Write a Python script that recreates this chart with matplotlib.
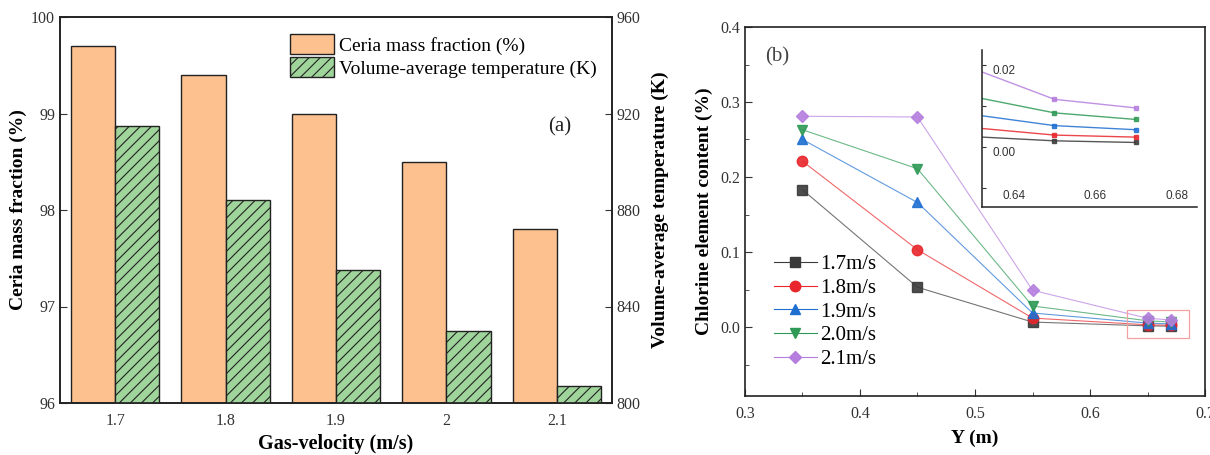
import matplotlib
matplotlib.use("Agg")
import matplotlib.pyplot as plt
import numpy as np
from matplotlib.patches import Rectangle

plt.rcParams['font.family'] = ['Liberation Serif', 'DejaVu Serif']
plt.rcParams['hatch.linewidth'] = 0.8

# ---------- data (a) ----------
velocities = ["1.7", "1.8", "1.9", "2", "2.1"]
ceria_fraction = [99.7, 99.4, 99.0, 98.5, 97.8]
avg_temperature = [915, 884, 855, 830, 807]

# ---------- data (b) ----------
y_positions = [0.35, 0.45, 0.55, 0.65, 0.67]
series_labels = ["1.7m/s", "1.8m/s", "1.9m/s", "2.0m/s", "2.1m/s"]
cl_17 = [0.183, 0.053, 0.0066, 0.0015, 0.0011]
cl_18 = [0.221, 0.103, 0.0119, 0.0029, 0.0024]
cl_19 = [0.250, 0.166, 0.0187, 0.0052, 0.0042]
cl_20 = [0.263, 0.211, 0.0280, 0.0083, 0.0067]
cl_21 = [0.281, 0.280, 0.0490, 0.0116, 0.0095]
series_values = [cl_17, cl_18, cl_19, cl_20, cl_21]

colors = ["#3a3a3a", "#e8262b", "#1f6fd1", "#2e9a55", "#b57ede"]
markers = ["s", "o", "^", "v", "D"]
msizes = [7, 7.5, 7.5, 7.5, 6.5]

TICK = 11.5
LAB = 14

fig = plt.figure(figsize=(12.1, 4.55), dpi=100)

# ================= panel (a) =================
ax1 = fig.add_axes([60/1210, 1-403/455, (612-60)/1210, (403-17)/455])
ax2 = ax1.twinx()
x = np.arange(len(velocities))
w = 0.4
b1 = ax1.bar(x - w/2, np.array(ceria_fraction) - 96, bottom=96, width=w,
             color="#fdc08f", edgecolor="#222222", linewidth=1.0,
             label="Ceria mass fraction (%)")
b2 = ax2.bar(x + w/2, np.array(avg_temperature) - 800, bottom=800, width=w,
             color="#9fd49b", edgecolor="#222222", linewidth=1.0, hatch="///",
             label="Volume-average temperature (K)")
ax1.set_xlim(-0.5, len(velocities) - 0.5)
ax1.set_ylim(96, 100)
ax2.set_ylim(800, 960)
ax1.set_yticks([96, 97, 98, 99, 100])
ax2.set_yticks([800, 840, 880, 920, 960])
ax1.set_xticks(x)
ax1.set_xticklabels(velocities)
ax1.tick_params(axis='x', length=0, labelsize=TICK, pad=7, colors="#333333")
ax1.tick_params(axis='y', direction='in', length=5, labelsize=TICK, colors="#333333")
ax2.tick_params(axis='y', direction='in', length=5, labelsize=TICK, colors="#333333")
for ax in (ax1, ax2):
    for s in ax.spines.values():
        s.set_linewidth(1.2)
        s.set_color("#222222")
ax1.set_ylabel("Ceria mass fraction (%)", fontsize=LAB, fontweight='bold', labelpad=3)
ax2.set_ylabel("Volume-average temperature (K)", fontsize=LAB, fontweight='bold', labelpad=8)
ax1.set_xlabel("Gas-velocity (m/s)", fontsize=LAB + 0.5, fontweight='bold', labelpad=4)
ax1.legend(handles=[b1, b2], loc='upper left', bbox_to_anchor=(0.402, 0.975),
           frameon=False, fontsize=14, handlelength=2.3, handleheight=1.2,
           handletextpad=0.25, labelspacing=0.1, borderaxespad=0)
ax1.text(0.905, 0.715, "(a)", transform=ax1.transAxes, fontsize=15,
         ha='center', va='center', color="#222222")

# ================= panel (b) =================
ax3 = fig.add_axes([745/1210, 1-396/455, (1205-745)/1210, (396-27)/455])
for vals, lab, c, m, ms in zip(series_values, series_labels, colors, markers, msizes):
    ax3.plot(y_positions, vals, color=c, linewidth=0.8, alpha=0.7)
    ax3.plot(y_positions, vals, linestyle='none', marker=m, markersize=ms,
             markerfacecolor=c, markeredgecolor=c, alpha=0.9)
    ax3.plot([], [], color=c, linewidth=0.8, marker=m, markersize=ms,
             markerfacecolor=c, markeredgecolor=c, label=lab)
ax3.set_xlim(0.3, 0.7)
ax3.set_ylim(-0.092, 0.4)
ax3.set_xticks([0.3, 0.4, 0.5, 0.6, 0.7])
ax3.set_xticks([0.35, 0.45, 0.55, 0.65], minor=True)
ax3.set_yticks([0.0, 0.1, 0.2, 0.3, 0.4])
ax3.set_yticks([-0.05, 0.05, 0.15, 0.25, 0.35], minor=True)
ax3.yaxis.set_major_formatter(matplotlib.ticker.FormatStrFormatter('%.1f'))
ax3.xaxis.set_major_formatter(matplotlib.ticker.FormatStrFormatter('%.1f'))
ax3.tick_params(which='both', direction='in', labelsize=TICK, colors="#333333")
ax3.tick_params(axis='x', pad=7)
ax3.tick_params(which='major', length=5)
ax3.tick_params(which='minor', length=3)
for s in ax3.spines.values():
    s.set_linewidth(1.2)
    s.set_color("#222222")
ax3.set_ylabel("Chlorine element content (%)", fontsize=LAB, fontweight='bold', labelpad=5)
ax3.set_xlabel("Y (m)", fontsize=LAB, fontweight='bold', labelpad=6)
ax3.legend(loc='lower left', bbox_to_anchor=(0.045, 0.05), frameon=False,
           fontsize=15, handlelength=2.05, handletextpad=0.15, labelspacing=0.2,
           borderaxespad=0)
ax3.text(0.07, 0.92, "(b)", transform=ax3.transAxes, fontsize=15,
         ha='center', va='center', color="#444444")
ax3.add_patch(Rectangle((0.6325, -0.0147), 0.0535, 0.0374, fill=False,
                        edgecolor="#f2a0a0", linewidth=0.9, zorder=5))

# ---- inset ----
axi = fig.add_axes([982/1210, 1-207/455, (1197-982)/1210, (207-50)/455])
for vals, c, m in zip(series_values, colors, markers):
    axi.plot(y_positions, vals, color=c, linewidth=1.0, marker='s', markersize=2.2,
             alpha=0.85)
axi.set_xlim(0.6322, 0.685)
axi.set_ylim(-0.0146, 0.0236)
axi.spines['top'].set_visible(False)
axi.spines['right'].set_visible(False)
for s in ('left', 'bottom'):
    axi.spines[s].set_linewidth(1.1)
    axi.spines[s].set_color("#222222")
axi.set_xticks([0.64, 0.66, 0.68])
axi.set_yticks([-0.01, 0.0, 0.01, 0.02])
axi.set_yticklabels(["", "0.00", "", "0.02"])
axi.tick_params(axis='x', direction='in', length=0, pad=-12, labelsize=8.5,
                colors="#333333")
axi.tick_params(axis='y', direction='in', length=3, pad=-24, labelsize=8.5,
                colors="#333333")
for t in axi.get_xticklabels() + axi.get_yticklabels():
    t.set_fontfamily('Liberation Sans')
for t in axi.get_yticklabels():
    t.set_verticalalignment('top')

fig.savefig("out.png", dpi=100)
